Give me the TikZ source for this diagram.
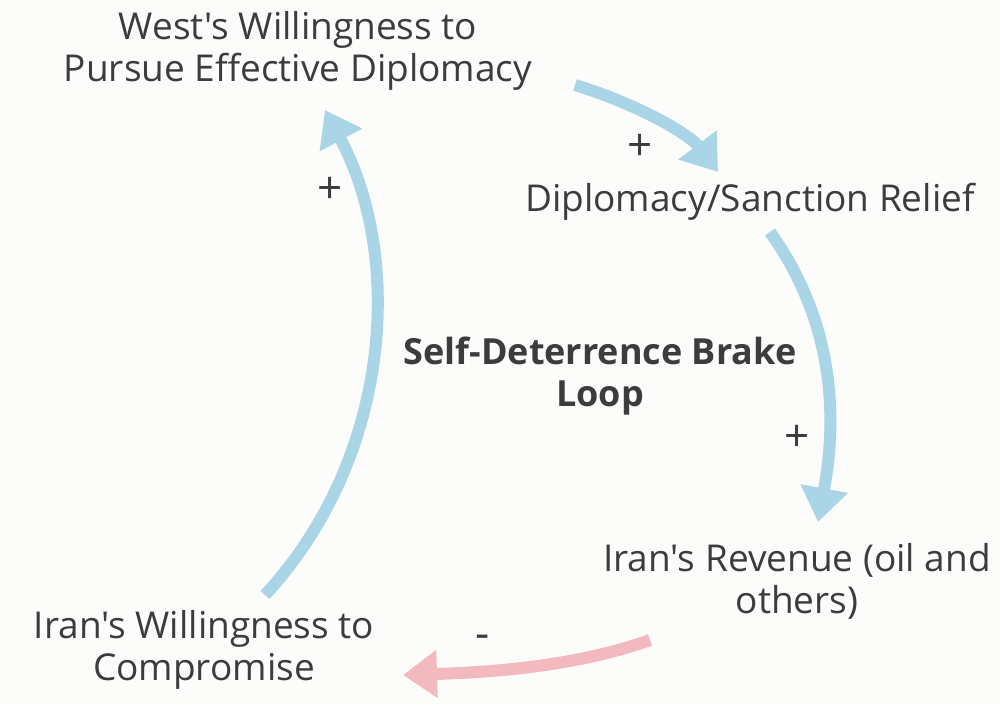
\documentclass[tikz,border=0pt]{standalone}
\usepackage{fontspec}
\setmainfont{Open Sans}[Ligatures=TeXOff]
\usetikzlibrary{arrows.meta}
\definecolor{bg}{HTML}{FCFCFA}
\definecolor{lb}{HTML}{A9D5E6}
\definecolor{pk}{HTML}{F2B9BE}
\definecolor{tx}{HTML}{3C3C3C}
\begin{document}
\begin{tikzpicture}[x=1pt,y=-1pt,
  lbl/.style={font=\fontsize{37}{42}\selectfont,text=tx,align=center,inner sep=0},
  sg/.style={font=\fontsize{44}{44}\selectfont,text=tx,inner sep=0},
  arr/.style={line width=12pt,draw=lb,-{Triangle[width=46pt,length=34pt]}}]
\fill[bg] (0,0) rectangle (1000,704);
\useasboundingbox (0,0) rectangle (1000,704);
\node[lbl] (w) at (298,51) {West's Willingness to\\Pursue Effective Diplomacy};
\node[lbl] (d) at (750,202) {Diplomacy/Sanction Relief};
\node[lbl] (r) at (797,581) {Iran's Revenue (oil and\\others)};
\node[lbl] (c) at (204,650) {Iran's Willingness to\\Compromise};
\node[font=\bfseries\fontsize{36}{42}\selectfont,text=tx,align=center] (t) at (600,376) {Self-Deterrence Brake\\Loop};
\coordinate (a1s) at (575,85); \coordinate (a1e) at (718,172);
\draw[arr] (a1s) .. controls (640,105) and (690,135) .. (a1e);
\coordinate (a2s) at (770,232); \coordinate (a2e) at (818,522);
\draw[arr] (a2s) .. controls (840,330) and (835,430) .. (a2e);
\coordinate (a3s) at (265,595); \coordinate (a3e) at (325,110);
\draw[arr] (a3s) .. controls (390,460) and (405,260) .. (a3e);
\coordinate (a4s) at (650,640); \coordinate (a4e) at (403,675);
\draw[line width=12pt,draw=pk,-{Triangle[width=46pt,length=34pt]}] (a4s) .. controls (580,665) and (500,672) .. (a4e);
\node[sg] (p1) at (640,147) {+};
\node[sg] (p2) at (797,438) {+};
\node[sg] (p3) at (330,190) {+};
\node[sg] (m) at (483,642) {-};
\end{tikzpicture}
\end{document}
